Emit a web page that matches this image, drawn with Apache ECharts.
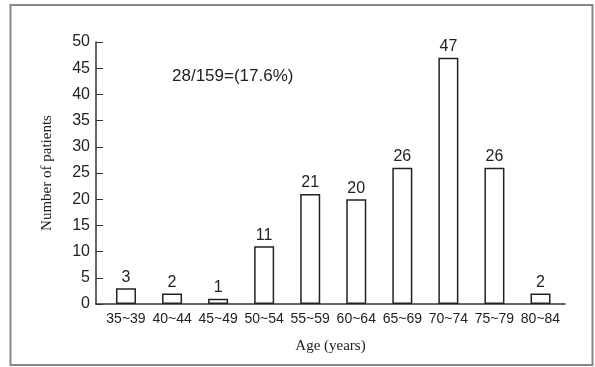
<!DOCTYPE html>
<html>
<head>
<meta charset="utf-8">
<script src="https://cdn.jsdelivr.net/npm/echarts@6/dist/echarts.min.js"></script>
<style>
html,body{margin:0;padding:0;background:#fff;}
#chart{width:595px;height:367px;}
</style>
</head>
<body>
<div id="chart"></div>
<script>
var categories = ['35~39','40~44','45~49','50~54','55~59','60~64','65~69','70~74','75~79','80~84'];
var patients = [3, 2, 1, 11, 21, 20, 26, 47, 26, 2];
var yTicks = [0, 5, 10, 15, 20, 25, 30, 35, 40, 45, 50];
var annotation = '28/159=(17.6%)';

var chart = echarts.init(document.getElementById('chart'), null, {renderer: 'canvas'});
var ink = '#222';
var option = {
  animation: false,
  backgroundColor: '#fff',
  grid: {left: 96, right: 30, top: 42, bottom: 63},
  xAxis: {
    type: 'value',
    min: -0.651,
    max: 9.532,
    name: 'Age (years)',
    nameLocation: 'middle',
    nameGap: 35,
    nameTextStyle: {fontFamily: 'Liberation Serif', fontSize: 15, color: ink},
    axisLine: {show: true, onZero: false, lineStyle: {color: '#333', width: 1.5}},
    axisTick: {show: false},
    splitLine: {show: false},
    axisLabel: {
      customValues: categories.map(function(c, i){ return i; }),
      formatter: function(v){ return categories[Math.round(v)] || ''; },
      fontFamily: 'Liberation Sans', fontSize: 14, color: ink, margin: 8
    }
  },
  yAxis: {
    type: 'value',
    min: 0, max: 50, interval: 5,
    name: 'Number of patients',
    nameLocation: 'middle',
    nameGap: 41,
    nameRotate: 90,
    nameTextStyle: {fontFamily: 'Liberation Serif', fontSize: 15, color: ink},
    axisLine: {show: true, onZero: false, lineStyle: {color: '#333', width: 1.5}},
    axisTick: {show: true, inside: true, length: 7, lineStyle: {color: '#333', width: 1}},
    splitLine: {show: false},
    axisLabel: {
      customValues: yTicks,
      fontFamily: 'Liberation Sans', fontSize: 16, color: ink, margin: 6
    }
  },
  series: [{
    type: 'bar',
    barWidth: 20,
    data: patients.map(function(v, i){ return [i, v]; }),
    itemStyle: {color: '#fff', borderColor: ink, borderWidth: 1.5},
    label: {
      show: true, position: 'top', distance: 3,
      fontFamily: 'Liberation Sans', fontSize: 16, color: ink
    }
  }],
  graphic: [
    {type: 'rect', shape: {x: 10.5, y: 5, width: 582, height: 360},
     style: {fill: 'none', stroke: '#888', lineWidth: 2}, z: -1},
    {type: 'text', left: 172, top: 68,
     style: {text: annotation, font: '17px "Liberation Sans"', fill: ink}}
  ]
};
chart.setOption(option);
</script>
</body>
</html>
